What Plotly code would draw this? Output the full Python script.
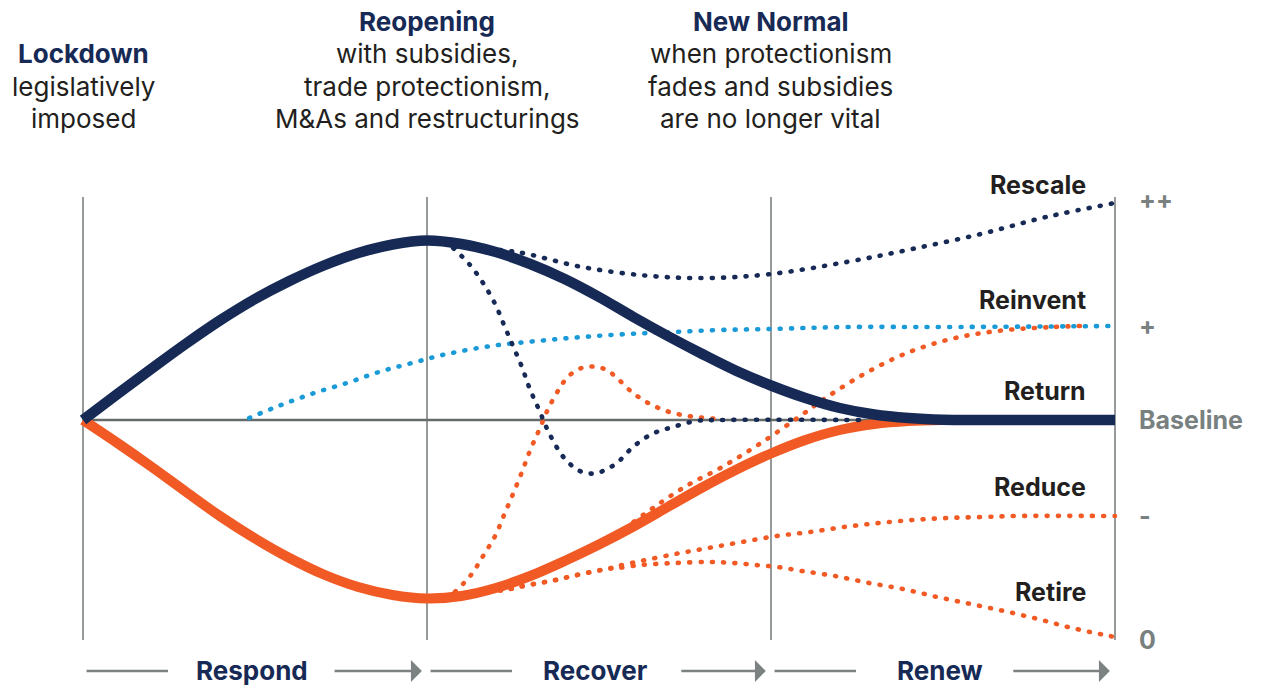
import plotly.graph_objects as go

# ---------------- data (x = phase time: 0 lockdown, 1 reopening, 2 new normal, 3 end; y = performance vs baseline)
return_x = [0, 0.1, 0.2, 0.3, 0.4, 0.5, 0.6, 0.7, 0.8, 0.9, 1.0, 1.1, 1.2, 1.3, 1.4, 1.5,
            1.6, 1.7, 1.8, 1.9, 2.0, 2.1, 2.2, 2.3, 2.4, 2.5, 2.6, 3.0]
return_y = [0, 0.26, 0.515, 0.765, 1.0, 1.21, 1.39, 1.545, 1.67, 1.755, 1.795, 1.76, 1.68, 1.56,
            1.41, 1.23, 1.03, 0.84, 0.66, 0.49, 0.345, 0.22, 0.12, 0.055, 0.02, 0.003, 0, 0]

low_x = [0, 0.1, 0.2, 0.3, 0.4, 0.5, 0.6, 0.7, 0.8, 0.9, 1.0, 1.1, 1.2, 1.3, 1.4, 1.5,
         1.6, 1.7, 1.8, 1.9, 2.0, 2.1, 2.2, 2.3, 2.4, 2.5, 2.6]
low_y = [0, -0.23, -0.47, -0.72, -0.965, -1.185, -1.38, -1.545, -1.67, -1.75, -1.785, -1.76,
         -1.68, -1.56, -1.41, -1.245, -1.065, -0.87, -0.675, -0.495, -0.335, -0.20, -0.10,
         -0.04, -0.01, 0, 0]

rescale_x = [1.08, 1.26, 1.45, 1.65, 1.82, 2.00, 2.22, 2.41, 2.61, 2.80, 3.0]
rescale_y = [1.73, 1.68, 1.53, 1.44, 1.42, 1.46, 1.58, 1.71, 1.86, 2.03, 2.17]

dip_x = [1.076, 1.125, 1.163, 1.198, 1.224, 1.250, 1.276, 1.299, 1.326, 1.352, 1.384, 1.404,
         1.430, 1.459, 1.494, 1.523, 1.552, 1.599, 1.654, 1.715, 1.782, 1.852, 2.26]
dip_y = [1.72, 1.55, 1.37, 1.16, 0.95, 0.74, 0.53, 0.31, 0.10, -0.11, -0.31, -0.40,
         -0.48, -0.53, -0.53, -0.49, -0.43, -0.27, -0.14, -0.07, -0.01, 0, 0]

bump_x = [1.081, 1.128, 1.163, 1.198, 1.224, 1.250, 1.276, 1.299, 1.326, 1.352, 1.384, 1.404,
          1.427, 1.459, 1.494, 1.523, 1.549, 1.599, 1.654, 1.715, 1.782, 1.852]
bump_y = [-1.72, -1.55, -1.36, -1.16, -0.95, -0.74, -0.52, -0.31, -0.10, 0.11, 0.31, 0.41,
          0.48, 0.53, 0.53, 0.50, 0.43, 0.27, 0.15, 0.07, 0.03, 0.01]

reinvent_x = [0.483, 0.576, 0.672, 0.767, 0.860, 0.956, 1.058, 1.186, 1.320, 1.453, 1.584,
              1.718, 1.852, 1.997, 2.221, 2.512, 3.0]
reinvent_y = [0.02, 0.15, 0.27, 0.37, 0.48, 0.57, 0.66, 0.74, 0.79, 0.83, 0.86,
              0.88, 0.90, 0.91, 0.93, 0.93, 0.94]

reinvent2_x = [1.60, 1.744, 1.858, 1.971, 2.081, 2.163, 2.276, 2.395, 2.523, 2.657, 2.82, 2.90]
reinvent2_y = [-1.02, -0.68, -0.47, -0.23, 0.03, 0.23, 0.47, 0.67, 0.81, 0.89, 0.93, 0.94]

reduce_x = [1.08, 1.224, 1.294, 1.360, 1.424, 1.491, 1.523, 1.555, 1.622, 1.721, 1.817, 1.916,
            2.017, 2.113, 2.212, 2.314, 2.413, 2.512, 2.613, 2.715, 3.0]
reduce_y = [-1.74, -1.70, -1.65, -1.61, -1.56, -1.51, -1.49, -1.46, -1.41, -1.34, -1.28, -1.22,
            -1.16, -1.12, -1.07, -1.03, -1.00, -0.98, -0.97, -0.96, -0.96]

retire_x = [1.08, 1.224, 1.294, 1.360, 1.424, 1.491, 1.523, 1.555, 1.622, 1.721, 1.823, 1.890,
            1.956, 2.02, 2.090, 2.186, 2.285, 2.384, 2.483, 2.581, 2.677, 2.776, 2.875, 3.0]
retire_y = [-1.74, -1.70, -1.65, -1.61, -1.56, -1.51, -1.49, -1.48, -1.45, -1.43, -1.42, -1.43,
            -1.45, -1.47, -1.51, -1.56, -1.63, -1.69, -1.77, -1.84, -1.91, -1.99, -2.08, -2.17]

scenario_names = ["Rescale", "Reinvent", "Return", "Reduce", "Retire"]
scenario_label_y = [2.35, 1.20, 0.29, -0.67, -1.72]

level_vals = [2.2, 0.94, 0, -0.96, -2.2]
level_text = ["++", "+", "Baseline", "-", "0"]

phase_x = [0, 1, 2, 3]
phase_titles = ["Lockdown", "Reopening", "New Normal"]
phase_notes = [["legislatively", "imposed"],
               ["with subsidies,", "trade protectionism,", "M&As and restructurings"],
               ["when protectionism", "fades and subsidies", "are no longer vital"]]
stages = ["Respond", "Recover", "Renew"]

# ---------------- styles
NAVY = "#172a56"
ORANGE = "#f15a24"
BLUE = "#1a9ad6"
GRID = "#7b8281"
BASE = "#656b6a"
LABEL = "#231f20"
TICK = "#78817f"
FONT = "Inter"
DOT = "1px,10.3px"

Y_TOP, Y_BOT = 4.20, -2.68      # whole canvas in data units
X_LEFT, X_RIGHT = -0.2413, 3.4419

fig = go.Figure()

def dotted(x, y, color):
    fig.add_trace(go.Scatter(x=x, y=y, mode="lines", hoverinfo="skip",
                             line=dict(color=color, width=4.6, dash=DOT, shape="spline", smoothing=1.0)))

fig.add_trace(go.Scatter(x=low_x, y=low_y, mode="lines", hoverinfo="skip",
                         line=dict(color=ORANGE, width=10, shape="spline", smoothing=1.0)))
dotted(reduce_x, reduce_y, ORANGE)
dotted(retire_x, retire_y, ORANGE)
dotted(reinvent2_x, reinvent2_y, ORANGE)
dotted(bump_x, bump_y, ORANGE)
dotted(reinvent_x, reinvent_y, BLUE)
dotted(rescale_x, rescale_y, NAVY)
dotted(dip_x, dip_y, NAVY)
fig.add_trace(go.Scatter(x=return_x, y=return_y, mode="lines", hoverinfo="skip",
                         line=dict(color=NAVY, width=10.5, shape="spline", smoothing=1.0)))

shapes = []
for px_ in phase_x:
    shapes.append(dict(type="line", xref="x", yref="y", x0=px_, x1=px_, y0=-2.2, y1=2.23,
                       line=dict(color=GRID, width=1.6), layer="below"))
shapes.append(dict(type="line", xref="x", yref="y", x0=phase_x[0], x1=phase_x[-1], y0=0, y1=0,
                   line=dict(color=BASE, width=2.6), layer="below"))

ann = []
for name, yy in zip(scenario_names, scenario_label_y):
    ann.append(dict(x=2.922, y=yy, xref="x", yref="y", text=name, showarrow=False,
                    xanchor="right", yanchor="middle",
                    font=dict(family=FONT, size=25, color=LABEL, weight=700)))
for v, t in zip(level_vals, level_text):
    ann.append(dict(x=3, y=v, xref="x", yref="y", text=t, showarrow=False, xshift=22,
                    xanchor="left", yanchor="middle",
                    font=dict(family=FONT, size=25, color=TICK, weight=700)))
line_y = [3.99, 3.67, 3.34, 3.02]
for i, (title, notes) in enumerate(zip(phase_titles, phase_notes)):
    lines = [title] + notes
    ys = line_y[len(line_y) - len(lines):]
    for j, (txt, yy) in enumerate(zip(lines, ys)):
        ann.append(dict(x=phase_x[i], y=yy, xref="x", yref="y", text=txt, showarrow=False,
                        xanchor="center", yanchor="middle",
                        font=dict(family=FONT, size=26,
                                  color=NAVY if j == 0 else LABEL, weight=700 if j == 0 else 400)))
arrow_y = -2.51
right_start = [0.727, 0.735, 0.70]
for i, st in enumerate(stages):
    x0 = phase_x[i]
    ann.append(dict(x=x0 + 0.49, y=Y_BOT + 0.005, xref="x", yref="y", text=st, showarrow=False,
                    xanchor="center", yanchor="bottom",
                    font=dict(family=FONT, size=26, color=NAVY, weight=700)))
    ann.append(dict(x=x0 + 0.247, y=arrow_y, xref="x", yref="y", ax=x0 + 0.006, ay=arrow_y,
                    axref="x", ayref="y", text="", showarrow=True, arrowhead=0,
                    arrowwidth=2.6, arrowcolor=GRID, standoff=0, startstandoff=0))
    ann.append(dict(x=x0 + 0.985, y=arrow_y, xref="x", yref="y", ax=x0 + right_start[i], ay=arrow_y,
                    axref="x", ayref="y", text="", showarrow=True, arrowhead=1,
                    arrowsize=1.4, arrowwidth=2.6, arrowcolor=GRID, standoff=0, startstandoff=0))

fig.update_layout(
    width=1267, height=688,
    margin=dict(l=0, r=0, t=0, b=0),
    paper_bgcolor="white", plot_bgcolor="white",
    showlegend=False,
    xaxis=dict(range=[X_LEFT, X_RIGHT], visible=False, fixedrange=True),
    yaxis=dict(range=[Y_BOT, Y_TOP], visible=False, fixedrange=True),
    shapes=shapes, annotations=ann,
)

post = """
document.body.style.margin = '0';
var gd = document.getElementById('{plot_id}');
function rc(){
  gd.querySelectorAll('path.js-line').forEach(function(p){
    var d = p.style.strokeDasharray;
    if (d && d !== 'none') { p.style.strokeLinecap = 'round'; }
  });
}
rc();
gd.on('plotly_afterplot', rc);
"""
fig.write_html("out.html", post_script=post, config={"displayModeBar": False})
